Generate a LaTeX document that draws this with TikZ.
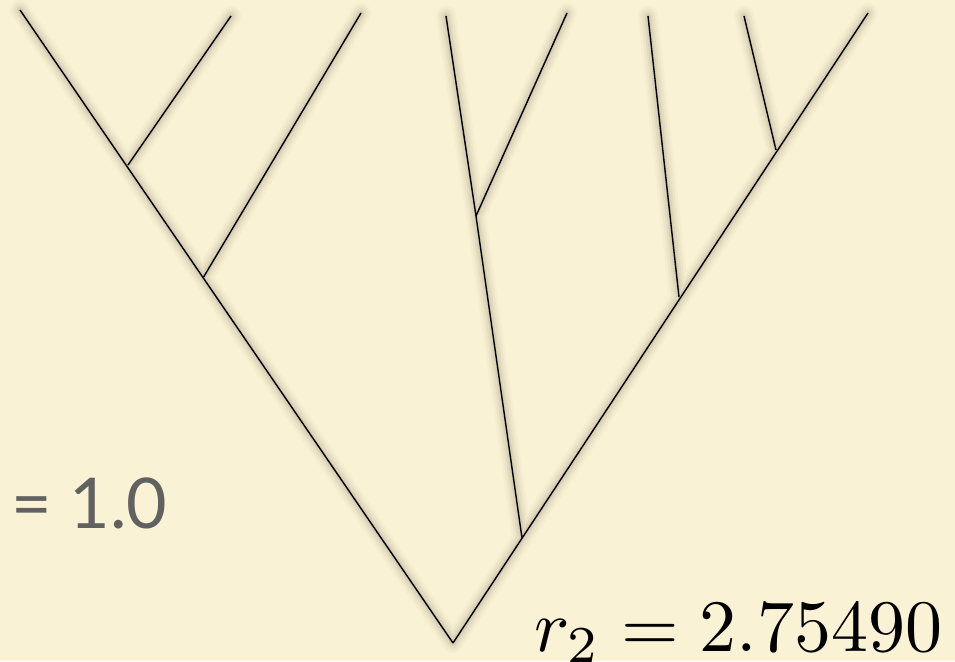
\documentclass[tikz,border=0pt]{standalone}
\usepackage{fontspec}
\setsansfont{Lato}
\usetikzlibrary{calc}
\definecolor{bgcol}{RGB}{249,242,212}
\definecolor{txtgray}{RGB}{97,97,97}
\tikzset{
  branch/.style={draw=black,line width=1.4pt},
  shadowline/.style={draw=black,line cap=round}
}
\newcommand{\treeedges}{%
  (root) -- (L0)
  (j1) -- (L1)
  (j2) -- (L2)
  (root) -- (R0)
  (j3) -- (j4) -- (L3)
  (j4) -- (L4)
  (j5) -- (L5)
  (j6) -- (L6)
}
\begin{document}
\begin{tikzpicture}[x=1pt,y=-1pt]
\fill[bgcol] (0,0) rectangle (955,661);
\useasboundingbox (0,0) rectangle (955,661);
% coordinates
\coordinate (root) at (453,643);
\coordinate (L0) at (20,10);
\coordinate (j1) at (128,165);
\coordinate (L1) at (231,16);
\coordinate (j2) at (203,278);
\coordinate (L2) at (361,13);
\coordinate (R0) at (868,13);
\coordinate (j3) at (522,538);
\coordinate (j4) at (476,216);
\coordinate (L3) at (446,16);
\coordinate (L4) at (567,13);
\coordinate (j5) at (679,297);
\coordinate (L5) at (648,16);
\coordinate (j6) at (776,150);
\coordinate (L6) at (744,16);
% soft shadows
\begin{scope}[shift={(8,8)}]
\foreach \w/\o in {20/0.02,15/0.03,10/0.035,6/0.04,3/0.04}{
  \draw[shadowline,line width=\w pt,opacity=\o] \treeedges;
}
\end{scope}
% tree
\draw[branch] \treeedges;
% labels
\node[anchor=base west,inner sep=0pt,text=txtgray,font=\sffamily\fontsize{70}{80}\selectfont] (lab1) at (11,528) {= 1.0};
\node[anchor=base west,inner sep=0pt,scale=7.4,transform shape,font=\fontsize{10}{12}\selectfont] (lab2) at (533,651) {$r_2 = 2.75490$};
\end{tikzpicture}
\end{document}
